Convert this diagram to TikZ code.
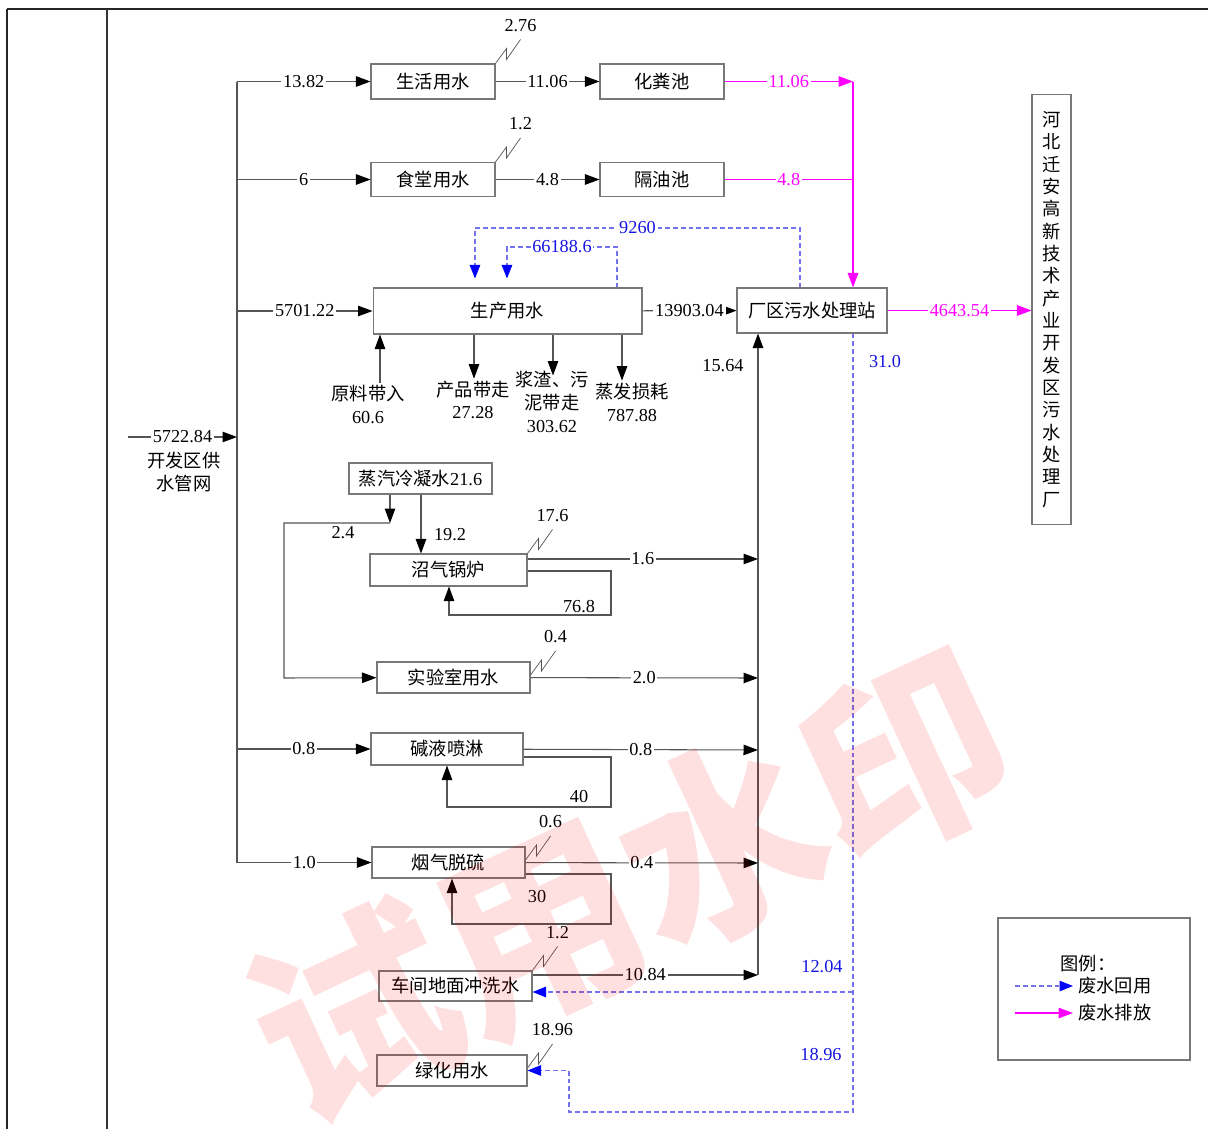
\documentclass[tikz,border=0pt]{standalone}
\usepackage{fontspec}
\setmainfont{Liberation Serif}
\newfontfamily\cjk{Noto Sans CJK SC}
\usetikzlibrary{arrows.meta}
\definecolor{boxgray}{RGB}{120,120,120}
\definecolor{linegray}{RGB}{85,85,85}
\definecolor{reuseline}{RGB}{115,115,235}
\definecolor{wblue}{RGB}{20,20,225}
\definecolor{drainpink}{RGB}{255,0,255}
\newcommand\fs{\fontsize{10.4pt}{13pt}\selectfont}
\tikzset{%
  proc/.style      = {shape=rectangle, draw=boxgray, line width=0.6pt,%
                      inner sep=0pt, font=\cjk\fs},%
  note/.style      = {align=center, inner sep=1pt},%
  num/.style       = {fill=white, inner sep=1pt},%
  wire/.style      = {draw=linegray, line width=0.6pt},%
  flow/.style      = {wire, -{Triangle[length=2.9mm,width=2.1mm,color=black]}},%
  reuse/.style     = {draw=reuseline, line width=0.6pt, dash pattern=on 2.8pt off 1.7pt,%
                      -{Triangle[length=2.7mm,width=2.1mm,color=blue]}},%
  drainline/.style = {color=drainpink, line width=0.7pt},%
  drain/.style     = {drainline, -{Triangle[length=2.9mm,width=2.1mm]}},%
  pics/brk/.style  = {code={\draw[wire, line width=0.4pt] (0,0) -- (11,-15) -- (11,-4) -- (25,-24);
                      \node at (25,-38) {#1};}}%
}

\begin{document}
\begin{tikzpicture}[x=0.02cm, y=-0.02cm, every node/.style={font=\fs}]
	\useasboundingbox (0,0) rectangle (1208,1129);
	% frame
	\draw[line width=1.7pt, color=black!85] (7,9) -- (1208,9);
	\draw[line width=1.2pt, color=black!85] (7,9) -- (7,1129);
	\draw[line width=1pt, color=black!80] (107,9) -- (107,1129);
	% boxes
	\node[proc, minimum width=2.48cm, minimum height=0.70cm] (sh) at (433,81.5) {生活用水};
	\node[proc, minimum width=2.48cm, minimum height=0.70cm] (hf) at (662,81.5) {化粪池};
	\node[proc, minimum width=2.48cm, minimum height=0.68cm] (st) at (433,179.5) {食堂用水};
	\node[proc, minimum width=2.48cm, minimum height=0.68cm] (gy) at (662,179.5) {隔油池};
	\node[proc, minimum width=5.38cm, minimum height=0.92cm] (sc) at (507.5,311) {生产用水};
	\node[proc, minimum width=3.00cm, minimum height=0.90cm] (ws) at (812,310.5) {厂区污水处理站};
	\node[proc, minimum width=0.78cm, minimum height=8.62cm, align=center,
		font=\cjk\fontsize{10.4pt}{12.7pt}\selectfont] (river) at (1051.5,309.5)
		{河\\北\\迁\\安\\高\\新\\技\\术\\产\\业\\开\\发\\区\\污\\水\\处\\理\\厂};
	\node[proc, minimum width=2.86cm, minimum height=0.62cm] (zq) at (420.5,478.5) {蒸汽冷凝水{\rmfamily 21.6}};
	\node[proc, minimum width=3.14cm, minimum height=0.64cm] (gl) at (448.5,570) {沼气锅炉};
	\node[proc, minimum width=3.06cm, minimum height=0.62cm] (sy) at (453.5,677.5) {实验室用水};
	\node[proc, minimum width=3.04cm, minimum height=0.64cm] (jy) at (447,749) {碱液喷淋};
	\node[proc, minimum width=3.06cm, minimum height=0.62cm] (yq) at (448.5,862.5) {烟气脱硫};
	\node[proc, minimum width=3.06cm, minimum height=0.60cm] (cj) at (455.5,986) {车间地面冲洗水};
	\node[proc, minimum width=3.00cm, minimum height=0.62cm] (lh) at (452,1070.5) {绿化用水};
	% supply network
	\coordinate (src) at (128,437);
	\coordinate (bin) at (237,437);
	\coordinate (b1) at (237,81.5);
	\coordinate (b2) at (237,179.5);
	\coordinate (b3) at (237,311);
	\coordinate (b4) at (237,749);
	\coordinate (b5) at (237,862.5);
	\draw[wire] (b1) -- (b5);
	\draw[flow] (src) -- node[num] {5722.84} (bin);
	\node[note, font=\cjk\fs] (feed) at (184,472) {开发区供\\水管网};
	\draw[flow] (b1) -- node[num] {13.82} (sh);
	\draw[flow] (b2) -- node[num] {6} (st);
	\draw[flow] (b3) -- node[num] {5701.22} (sc);
	\draw[flow] (b4) -- node[num] {0.8} (jy);
	\draw[flow] (b5) -- node[num] {1.0} (yq);
	% domestic and canteen
	\draw[flow] (sh) -- node[num] {11.06} (hf);
	\draw[flow] (st) -- node[num] {4.8} (gy);
	\pic at (sh.north east) {brk=2.76};
	\pic at (st.north east) {brk=1.2};
	\coordinate (m1) at (853,81.5);
	\coordinate (m2) at (853,179.5);
	\draw[drain] (hf) -- node[num] {11.06} (m1);
	\draw[drainline] (gy) -- node[num] {4.8} (m2);
	\draw[drain] (m1) -- (ws.north -| m1);
	\draw[drain] (ws) -- node[num] {4643.54} (river.west |- ws);
	% production
	\draw[flow] (sc) -- node[num] {13903.04} (ws);
	\node[note] (raw) at (368,404.5) {{\cjk 原料带入}\\60.6};
	\node[note] (prod) at (473,400) {{\cjk 产品带走}\\27.28};
	\node[note] (slag) at (552,402) {{\cjk 浆渣、污}\\{\cjk 泥带走}\\303.62};
	\node[note] (evap) at (632,402) {{\cjk 蒸发损耗}\\787.88};
	\draw[flow] (raw.north -| 380,0) -- (sc.south -| 380,0);
	\draw[flow] (sc.south -| 474,0) -- (prod.north -| 474,0);
	\draw[flow] (sc.south -| 553,0) -- ++(0,41);
	\draw[flow] (sc.south -| 622,0) -- (evap.north -| 622,0);
	\draw[reuse, shorten >=0.18cm] (ws.north -| 800,0) |- node[num, pos=0.75, text=wblue] {9260} (475,228) -- (sc.north -| 475,0);
	\draw[reuse, shorten >=0.18cm] (sc.north -| 617,0) |- node[num, pos=0.75, text=wblue] {66188.6} (507,247) -- (sc.north -| 507,0);
	% collector to the station
	\coordinate (k1) at (758,559);
	\coordinate (k2) at (758,678);
	\coordinate (k3) at (758,750);
	\coordinate (k4) at (758,863);
	\coordinate (k5) at (758,975);
	\draw[flow] (k5) -- (ws.south -| k5);
	\node (inflow) at (723,366) {15.64};
	% condensate
	\coordinate (z1) at (390,523);
	\draw[flow] (zq.south -| z1) -- (z1);
	\draw[flow] (z1) -| (284,678) -- (sy);
	\node (n24) at (343,533) {2.4};
	\draw[flow] (zq.south -| 421,0) -- (gl.north -| 421,0);
	\node (n192) at (450,535) {19.2};
	% boiler
	\draw[flow] (gl.east |- k1) -- node[num] {1.6} (k1);
	\draw[flow] (gl.east |- 0,571) -| (611,615) -| (gl.south -| 449,0);
	\node (n768) at (579,607) {76.8};
	\pic at (gl.north east) {brk=17.6};
	% laboratory
	\draw[flow] (sy) -- node[num] {2.0} (k2);
	\pic at (sy.east |- 0,675) {brk=0.4};
	% spray
	\draw[flow] (jy) -- node[num] {0.8} (k3);
	\draw[flow] (jy.east |- 0,757) -| (611,807) -| (jy.south -| 447,0);
	\node (n40) at (579,797) {40};
	% desulfurization
	\draw[flow] (yq) -- node[num] {0.4} (k4);
	\draw[flow] (yq.east |- 0,874) -| (611,924) -| (yq.south -| 452,0);
	\node (n30) at (537,897) {30};
	\pic at (yq.east |- 0,860) {brk=0.6};
	% floor washing and greening
	\draw[flow] (cj.east |- k5) -- node[num] {10.84} (k5);
	\pic at (cj.north east) {brk=1.2};
	\pic at (lh.east |- 0,1068) {brk=18.96};
	\coordinate (j1) at (853,992);
	\draw[reuse] (ws.south -| 853,0) |- (569,1112) |- (lh.east);
	\draw[reuse] (j1) -- (cj.east |- j1);
	\node[text=wblue] (r1) at (885,362) {31.0};
	\node[text=wblue] (r2) at (822,967) {12.04};
	\node[text=wblue] (r3) at (821,1055) {18.96};
	% legend
	\node[proc, minimum width=3.84cm, minimum height=2.84cm] (legend) at (1094,989) {};
	\node[font=\cjk\fs] (lgt) at (1088,964) {图例：};
	\coordinate (la) at (1015,986);
	\coordinate (lb) at (1073,986);
	\coordinate (lc) at (1015,1013);
	\coordinate (ld) at (1073,1013);
	\draw[reuse] (la) -- (lb);
	\draw[drain] (lc) -- (ld);
	\node[font=\cjk\fs, anchor=west, inner sep=0pt] (lgr) at (1078,986) {废水回用};
	\node[font=\cjk\fs, anchor=west, inner sep=0pt] (lgd) at (1078,1013) {废水排放};
	% watermark
	\node[rotate=25, font=\cjk\bfseries\fontsize{115pt}{115pt}\selectfont, text=red, text opacity=0.12] (wm) at (630,885) {试用水印};
\end{tikzpicture}
\end{document}
